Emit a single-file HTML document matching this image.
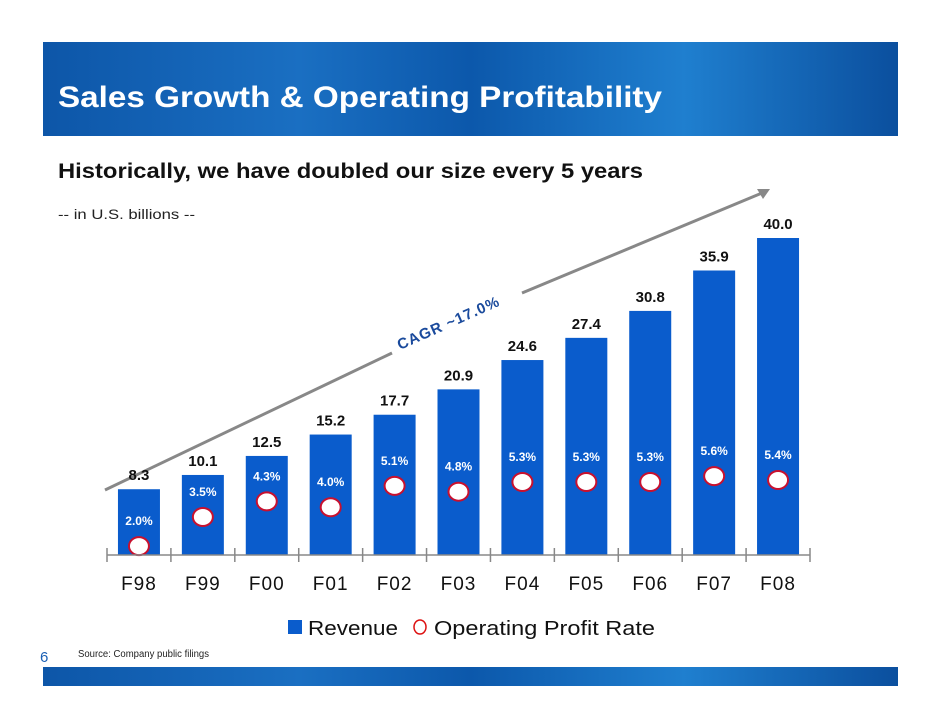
<!DOCTYPE html>
<html><head><meta charset="utf-8"><style>
body{margin:0;background:#fff;font-family:"Liberation Sans",Arial,sans-serif}
#wrap{position:relative;width:942px;height:728px;overflow:hidden}
</style></head><body><div id="wrap">
<svg width="942" height="728">
<defs>
<linearGradient id="hg" x1="0" y1="0" x2="1" y2="0">
<stop offset="0" stop-color="#0d56a8"/><stop offset="0.3" stop-color="#1a6fc2"/><stop offset="0.5" stop-color="#0c58ab"/><stop offset="0.75" stop-color="#1f7fcf"/><stop offset="1" stop-color="#0b4f9e"/></linearGradient>
</defs>
<rect x="43" y="42" width="855" height="94" fill="url(#hg)"/>
<text x="58" y="107" font-size="30" font-weight="bold" fill="#fff" textLength="604" lengthAdjust="spacingAndGlyphs">Sales Growth &amp; Operating Profitability</text>
<text x="58" y="178" font-size="21" font-weight="bold" fill="#111" textLength="585" lengthAdjust="spacingAndGlyphs">Historically, we have doubled our size every 5 years</text>
<text x="58" y="219" font-size="14" fill="#222" textLength="137" lengthAdjust="spacingAndGlyphs">-- in U.S. billions --</text>
<g id="cagr">
<line x1="105" y1="490" x2="392" y2="353" stroke="#888" stroke-width="3"/>
<line x1="522" y1="293" x2="762" y2="193" stroke="#888" stroke-width="3"/>
<polygon points="770,189 757,189 763,199" fill="#888"/>
<text x="0" y="0" font-size="15" font-weight="bold" fill="#1a4a9c" letter-spacing="1" transform="translate(400,350) rotate(-24)">CAGR ~17.0%</text>
</g>
<g id="chart"></g>
<rect x="288" y="620" width="14" height="14" fill="#0a5ccc"/>
<text x="308" y="635" font-size="20" fill="#111" textLength="90" lengthAdjust="spacingAndGlyphs">Revenue</text>
<ellipse cx="420" cy="627" rx="6" ry="7" fill="#fff" stroke="#d11" stroke-width="1.5"/>
<text x="434" y="635" font-size="20" fill="#111" textLength="221" lengthAdjust="spacingAndGlyphs">Operating Profit Rate</text>
<text x="40" y="662" font-size="15" fill="#1a5fb4">6</text>
<text x="78" y="657" font-size="10" fill="#222" textLength="131" lengthAdjust="spacingAndGlyphs">Source: Company public filings</text>
<rect x="43" y="667" width="855" height="19" fill="url(#hg)"/>
</svg></div>
<script>
const categories=["F98","F99","F00","F01","F02","F03","F04","F05","F06","F07","F08"];
const revenue=[8.3,10.1,12.5,15.2,17.7,20.9,24.6,27.4,30.8,35.9,40.0];
const profitRate=[2.0,3.5,4.3,4.0,5.1,4.8,5.3,5.3,5.3,5.6,5.4];
const NS="http://www.w3.org/2000/svg";
const g=document.getElementById('chart');
const x0=107,x1=810,base=555,bw=42;
const cw=(x1-x0)/categories.length;
const yRev=v=>base-v*7.925;
const yPct=v=>585-v*19.44;
function mk(t,a){const e=document.createElementNS(NS,t);for(const k in a)e.setAttribute(k,a[k]);g.appendChild(e);return e;}
categories.forEach((c,i)=>{
  const cx=x0+cw*(i+0.5);
  const bar=mk('rect',{x:cx-bw/2,y:yRev(revenue[i]),width:bw,height:base-yRev(revenue[i]),fill:'#0a5ccc'});
  
  
  const vl=mk('text',{x:cx,y:yRev(revenue[i])-9,'font-size':15,'font-weight':'bold','text-anchor':'middle',fill:'#111'});
  vl.textContent=revenue[i].toFixed(1);
  
  
  const py=yPct(profitRate[i]);
  const pl=mk('text',{x:cx,y:py-21,'font-size':12,'font-weight':'bold','text-anchor':'middle',fill:'#fff'});
  pl.textContent=profitRate[i].toFixed(1)+'%';
  
  
  const m=mk('ellipse',{cx:cx,cy:py,rx:10,ry:9,fill:'#fff',stroke:'#c8102e','stroke-width':2});
  
  
  const tl=mk('text',{x:cx,y:590,'font-size':19,'text-anchor':'middle',fill:'#111','letter-spacing':1});
  tl.textContent=c;
  
  
});
const ax=mk('line',{x1:x0,y1:base,x2:x1,y2:base,stroke:'#888','stroke-width':1.5});


for(let i=0;i<=categories.length;i++){
  const t=mk('line',{x1:x0+cw*i,y1:base-7,x2:x0+cw*i,y2:base+7,stroke:'#888','stroke-width':1.5});
  
  
}
</script></body></html>
